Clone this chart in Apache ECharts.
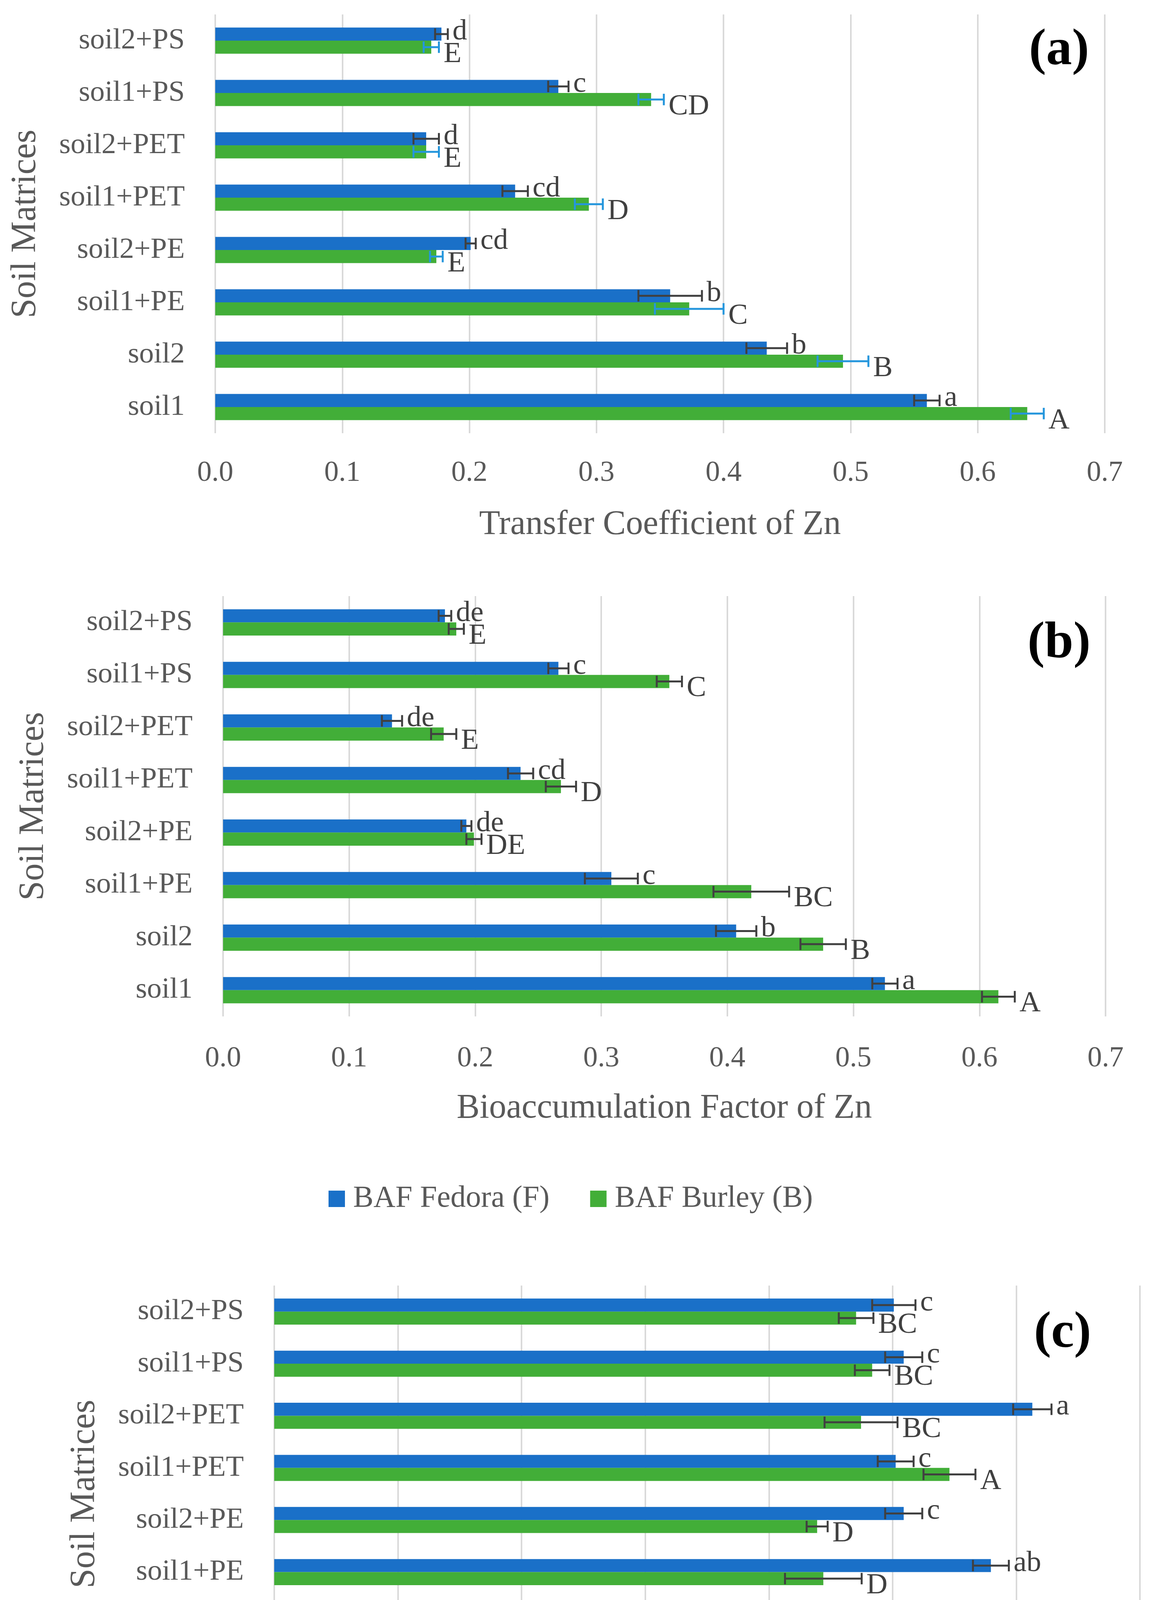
<!DOCTYPE html>
<html>
<head>
<meta charset="utf-8">
<script src="https://cdn.jsdelivr.net/npm/echarts@6/dist/echarts.min.js"></script>
<style>
  html, body { margin: 0; padding: 0; background: #fff; }
  #chart { width: 2995px; height: 4910px; }
</style>
</head>
<body>
<div id="chart"></div>
<script>
// Categories (bottom to top, as the category axis draws them)
const categories = ['soil1', 'soil2', 'soil1+PE', 'soil2+PE', 'soil1+PET', 'soil2+PET', 'soil1+PS', 'soil2+PS'];

// (a) Transfer coefficient of Zn
const tcFedora = [0.560, 0.434, 0.358, 0.201, 0.236, 0.166, 0.270, 0.178];
const tcFedoraErr = [0.010, 0.016, 0.025, 0.004, 0.010, 0.010, 0.008, 0.005];
const tcFedoraLetters = ['a', 'b', 'b', 'cd', 'cd', 'd', 'c', 'd'];
const tcBurley = [0.639, 0.494, 0.373, 0.174, 0.294, 0.166, 0.343, 0.170];
const tcBurleyErr = [0.013, 0.020, 0.027, 0.005, 0.011, 0.010, 0.010, 0.006];
const tcBurleyLetters = ['A', 'B', 'C', 'E', 'D', 'E', 'CD', 'E'];

// (b) Bioaccumulation factor of Zn
const bafFedora = [0.525, 0.407, 0.308, 0.193, 0.236, 0.134, 0.266, 0.176];
const bafFedoraErr = [0.010, 0.016, 0.021, 0.004, 0.010, 0.008, 0.008, 0.005];
const bafFedoraLetters = ['a', 'b', 'c', 'de', 'cd', 'de', 'c', 'de'];
const bafBurley = [0.615, 0.476, 0.419, 0.199, 0.268, 0.175, 0.354, 0.185];
const bafBurleyErr = [0.013, 0.018, 0.030, 0.006, 0.012, 0.010, 0.010, 0.006];
const bafBurleyLetters = ['A', 'B', 'BC', 'DE', 'D', 'E', 'C', 'E'];

// (c) Translocation factor of Zn
const tfFedora = [1.064, 1.064, 1.159, 1.018, 1.005, 1.226, 1.018, 1.002];
const tfFedoraErr = [0.028, 0.028, 0.029, 0.030, 0.029, 0.031, 0.030, 0.035];
const tfFedoraLetters = ['bc', 'bc', 'ab', 'c', 'c', 'a', 'c', 'c'];
const tfBurley = [1.036, 1.036, 0.888, 0.878, 1.092, 0.949, 0.967, 0.941];
const tfBurleyErr = [0.020, 0.041, 0.062, 0.017, 0.042, 0.059, 0.028, 0.028];
const tfBurleyLetters = ['AB', 'AB', 'D', 'D', 'A', 'BC', 'BC', 'BC'];

const FONT = 'Liberation Serif';
const BLUE = '#1a70c8';
const GREEN = '#42ae38';
const TEXT = '#595959';

const chart = echarts.init(document.getElementById('chart'));

// error bar + significance letter, drawn through the axes
function errorBars(idx, values, errors, letters, side, color) {
  return {
    type: 'custom',
    xAxisIndex: idx,
    yAxisIndex: idx,
    data: values.map((v, i) => [v, i, errors[i]]),
    encode: { x: 0, y: 1 },
    z: 5,
    clip: false,
    silent: true,
    renderItem: function (params, api) {
      const v = api.value(0), i = api.value(1), e = api.value(2);
      const band = api.size([0, 1])[1];
      const c = api.coord([v, i]);
      const y = c[1] + side * band * 0.125;
      const x0 = api.coord([v - e, i])[0];
      const x1 = api.coord([v + e, i])[0];
      const h = band * 0.11;
      const ly = c[1] + (side < 0 ? -0.17 : 0.26) * band;
      const ls = { stroke: color, lineWidth: 5 };
      return {
        type: 'group',
        children: [
          { type: 'line', shape: { x1: x0, y1: y, x2: x1, y2: y }, style: ls },
          { type: 'line', shape: { x1: x0, y1: y - h, x2: x0, y2: y + h }, style: ls },
          { type: 'line', shape: { x1: x1, y1: y - h, x2: x1, y2: y + h }, style: ls },
          {
            type: 'text', x: x1 + 12, y: ly,
            style: {
              text: letters[params.dataIndex], fill: '#404040',
              fontSize: 75, fontFamily: FONT, align: 'left', verticalAlign: 'middle'
            }
          }
        ]
      };
    }
  };
}

const panels = [
  { grid: { left: 551, right: 167, top: 37, height: 1072 }, max: 0.7, interval: 0.1,
    xName: 'Transfer Coefficient of Zn', labelMargin: 66, nameGap: 191,
    names: ['TC Fedora (F)', 'TC Burley (B)'],
    fed: [tcFedora, tcFedoraErr, tcFedoraLetters], bur: [tcBurley, tcBurleyErr, tcBurleyLetters],
    errColors: ['#404040', '#2596dc'] },
  { grid: { left: 571, right: 165, top: 1526, height: 1076 }, max: 0.7, interval: 0.1,
    xName: 'Bioaccumulation Factor of Zn', labelMargin: 72, nameGap: 192,
    names: ['BAF Fedora (F)', 'BAF Burley (B)'],
    fed: [bafFedora, bafFedoraErr, bafFedoraLetters], bur: [bafBurley, bafBurleyErr, bafBurleyLetters],
    errColors: ['#404040', '#404040'] },
  { grid: { left: 702, right: 77, top: 3291, height: 1067 }, max: 1.4, interval: 0.2,
    xName: 'Transocation Factor of Zn', labelMargin: 78, nameGap: 199,
    names: ['TF Fedora (F)', 'TF Burley (B)'],
    fed: [tfFedora, tfFedoraErr, tfFedoraLetters], bur: [tfBurley, tfBurleyErr, tfBurleyLetters],
    errColors: ['#404040', '#404040'] }
];

const grids = [], xAxes = [], yAxes = [], series = [];
panels.forEach((p, k) => {
  grids.push(p.grid);
  xAxes.push({
    gridIndex: k, type: 'value', min: 0, max: p.max, interval: p.interval,
    axisLine: { show: false }, axisTick: { show: false },
    splitLine: { show: true, lineStyle: { color: '#d9d9d9', width: 4 } },
    axisLabel: { formatter: v => v.toFixed(1), fontSize: 74, color: TEXT, fontFamily: FONT, margin: p.labelMargin },
    name: p.xName, nameLocation: 'middle', nameGap: p.nameGap,
    nameTextStyle: { fontSize: 88, color: TEXT, fontFamily: FONT }
  });
  yAxes.push({
    gridIndex: k, type: 'category', data: categories,
    axisLine: { show: false }, axisTick: { show: false },
    axisLabel: { fontSize: 75, color: TEXT, fontFamily: FONT, margin: 78 },
    name: 'Soil Matrices', nameLocation: 'middle', nameGap: 440,
    nameTextStyle: { fontSize: 90, color: TEXT, fontFamily: FONT }
  });
  series.push({
    type: 'bar', name: p.names[0], xAxisIndex: k, yAxisIndex: k,
    data: p.fed[0], barWidth: '25%', barGap: '0%', itemStyle: { color: BLUE }
  });
  series.push({
    type: 'bar', name: p.names[1], xAxisIndex: k, yAxisIndex: k,
    data: p.bur[0], barWidth: '25%', barGap: '0%', itemStyle: { color: GREEN }
  });
  series.push(errorBars(k, p.fed[0], p.fed[1], p.fed[2], -1, p.errColors[0]));
  series.push(errorBars(k, p.bur[0], p.bur[1], p.bur[2], 1, p.errColors[1]));
});

const legendStyle = {
  orient: 'horizontal', itemWidth: 42, itemHeight: 42, itemGap: 104, icon: 'rect', padding: 0,
  textStyle: { fontSize: 78, color: TEXT, fontFamily: FONT, padding: [0, 0, 0, 16] }
};

const panelLabel = (text, x, y) => ({
  type: 'text', x: x, y: y,
  style: { text: text, fontSize: 132, fontWeight: 'bold', fontFamily: FONT, fill: '#000', align: 'center', verticalAlign: 'middle' }
});

const option = {
  animation: false,
  backgroundColor: '#fff',
  grid: grids,
  xAxis: xAxes,
  yAxis: yAxes,
  legend: [
    Object.assign({ data: ['BAF Fedora (F)', 'BAF Burley (B)'], left: 841, top: 3030 }, legendStyle),
    Object.assign({ data: ['TF Fedora (F)', 'TF Burley (B)'], left: 1016, top: 4792 }, legendStyle)
  ],
  graphic: [
    panelLabel('(a)', 2711, 130),
    panelLabel('(b)', 2711, 1648),
    panelLabel('(c)', 2720, 3414)
  ],
  series: series
};

chart.setOption(option);
</script>
</body>
</html>
